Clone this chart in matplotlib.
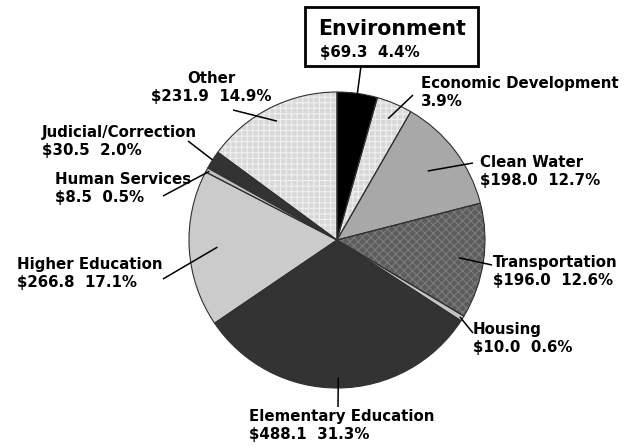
import numpy as np
import matplotlib
matplotlib.use("Agg")
import matplotlib.pyplot as plt
from matplotlib.patches import Rectangle

# data (millions of dollars, share of total)
categories = ["Environment", "Economic Development", "Clean Water", "Transportation",
              "Housing", "Elementary Education", "Higher Education", "Human Services",
              "Judicial/Correction", "Other"]
shares = [4.4, 3.9, 12.7, 12.6, 0.6, 31.3, 17.1, 0.5, 2.0, 14.9]
dollars = ["$69.3", None, "$198.0", "$196.0", "$10.0", "$488.1", "$266.8", "$8.5", "$30.5", "$231.9"]

colors = ["#000000", "#d8d8d8", "#a8a8a8", "#5c5c5c", "#c4c4c4",
          "#333333", "#cbcbcb", "#bdbdbd", "#333333", "#d8d8d8"]
hatches = [None, "+++", None, "xxxx", None, None, None, None, None, "+++"]
hatch_colors = [None, "#f0f0f0", None, "#7c7c7c", None, None, None, None, None, "#f0f0f0"]

W, H = 635, 448
CX, CY, R = 337, 240, 148   # pie centre / radius in pixels


def P(x, y):
    """pixel position -> data coords of the pie axes"""
    return (x - CX) / R, (CY - y) / R


# label layout: text top-left pixel, alignment, leader start pixel, leader depth into wedge
layout = {
    "Environment":          dict(txt=None, start=(361, 66), depth=0.97),
    "Economic Development": dict(txt=(421, 76), ha="left", start=(413, 95), depth=0.89),
    "Clean Water":          dict(txt=(480, 155), ha="left", start=(473, 163), depth=0.77),
    "Transportation":       dict(txt=(493, 255), ha="left", start=(492, 265), depth=0.83),
    "Housing":              dict(txt=(473, 322), ha="left", start=(473, 333), depth=0.98),
    "Elementary Education": dict(txt=(249, 409), ha="left", start=(338, 407), depth=0.93),
    "Higher Education":     dict(txt=(17, 257), ha="left", start=(163, 279), depth=0.81),
    "Human Services":       dict(txt=(55, 172), ha="left", start=(163, 196), depth=0.98),
    "Judicial/Correction":  dict(txt=(42, 125), ha="left", start=(188, 141), depth=1.0),
    "Other":                dict(txt=(211, 71), ha="center", start=(233, 110), depth=0.9),
}

plt.rcParams["font.family"] = ["DejaVu Sans"]
plt.rcParams["hatch.linewidth"] = 0.8
fig = plt.figure(figsize=(W / 100, H / 100), dpi=100)
ax = fig.add_axes([0, 0, 1, 1])

wedges, _ = ax.pie(shares, colors=colors, startangle=90, counterclock=False,
                   radius=1.0, wedgeprops=dict(linewidth=0))
for w, h, hc in zip(wedges, hatches, hatch_colors):
    if h:
        w.set_hatch(h)
        w.set_edgecolor(hc)
        w.set_linewidth(0)
# outlines on top
outl, _ = ax.pie(shares, startangle=90, counterclock=False, radius=1.0,
                 wedgeprops=dict(fill=False, edgecolor="#303030", linewidth=0.8))

x0, y1 = P(0, 0)
x1, y0 = P(W, H)
ax.set_xlim(x0, x1)
ax.set_ylim(y0, y1)
ax.set_aspect("auto")
ax.axis("off")

# wedge mid angles
cum = np.cumsum([0] + shares[:-1])
mids = 90 - (cum + np.array(shares) / 2) * 3.6

for name, share, dol, mid in zip(categories, shares, dollars, mids):
    lay = layout[name]
    ex = lay["depth"] * np.cos(np.radians(mid))
    ey = lay["depth"] * np.sin(np.radians(mid))
    sx, sy = P(*lay["start"])
    ax.plot([sx, ex], [sy, ey], color="black", lw=1.1, solid_capstyle="butt", zorder=3)
    if lay["txt"] is None:
        continue
    second = f"{share:.1f}%" if dol is None else f"{dol}  {share:.1f}%"
    tx, ty = P(*lay["txt"])
    ax.text(tx, ty, f"{name}\n{second}", ha=lay["ha"], va="top",
            fontsize=10.8, fontweight="bold", linespacing=1.25,
            multialignment=lay["ha"], zorder=5)

# boxed Environment label
ax.add_patch(Rectangle((305 / W, 1 - 66 / H), 173 / W, 59 / H, transform=fig.transFigure,
                       fill=True, facecolor="white", edgecolor="black", lw=2, zorder=4))
env_share = shares[0]
tx, ty = P(318, 19)
ax.text(tx, ty, categories[0], ha="left", va="top", fontsize=14.8, fontweight="bold", zorder=5)
tx, ty = P(320, 45)
ax.text(tx, ty, f"{dollars[0]}  {env_share:.1f}%", ha="left", va="top",
        fontsize=10.8, fontweight="bold", zorder=5)

fig.savefig("out.png", dpi=100, facecolor="white")
